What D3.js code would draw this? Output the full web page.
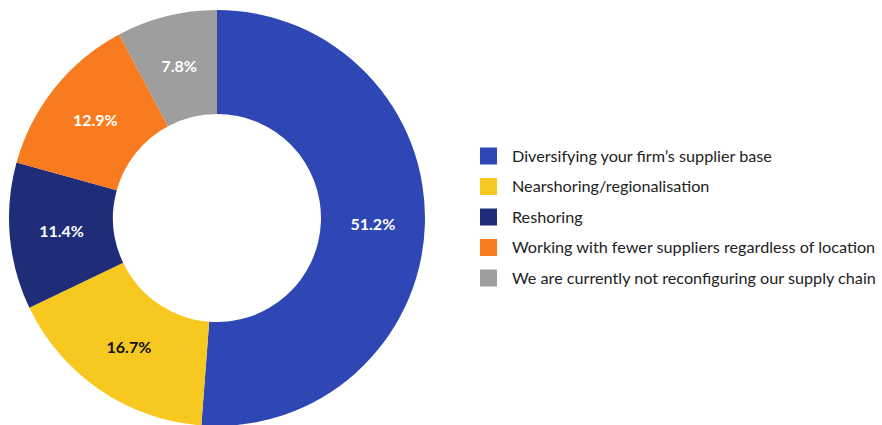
<!DOCTYPE html>
<html><head><meta charset="utf-8">
<script src="https://cdn.jsdelivr.net/npm/d3@7"></script>
<style>body{margin:0;background:#fff}svg{display:block}</style>
</head><body>
<svg id="chart" width="882" height="425"></svg>
<script>
const categories = ["Diversifying your firm’s supplier base","Nearshoring/regionalisation","Reshoring","Working with fewer suppliers regardless of location","We are currently not reconfiguring our supply chain"];
const values = [51.2, 16.7, 11.4, 12.9, 7.8];
const colors = ["#2E47B5","#F7C81F","#1F2D78","#F87B20","#9E9E9E"];
const labelColors = ["#fff","#111","#fff","#fff","#fff"];

const svg = d3.select("#chart");
const cx = 217, cy = 218, R = 208, r = 104;
const pie = d3.pie().sort(null).value(d => d.v);
const data = pie(values.map((v,i)=>({v,i})));
const arc = d3.arc().innerRadius(r).outerRadius(R);
const g = svg.append("g").attr("transform",`translate(${cx},${cy})`);
g.selectAll("path").data(data).join("path")
  .attr("d", arc).attr("fill", d => colors[d.data.i]);
g.selectAll("text").data(data).join("text")
  .attr("transform", d => `translate(${arc.centroid(d)})`)
  .attr("text-anchor","middle").attr("dy","0.36em")
  .attr("font-family","Lato, 'Open Sans', sans-serif").attr("font-weight","bold")
  .attr("font-size",16).attr("fill", d => labelColors[d.data.i])
  .text(d => d.data.v.toFixed(1) + "%");

const lg = svg.append("g").attr("transform","translate(480,156)");
const rows = lg.selectAll("g").data(categories).join("g")
  .attr("transform",(d,i)=>`translate(0,${i*30.5})`);
rows.append("rect").attr("x",0).attr("y",-8.5).attr("width",17).attr("height",17)
  .attr("fill",(d,i)=>colors[i]);
rows.append("text").attr("x",32).attr("dy","0.35em")
  .attr("font-family","Lato, 'Open Sans', sans-serif").attr("font-size",16.2)
  .attr("fill","#222").text(d=>d);
</script>
</body></html>
